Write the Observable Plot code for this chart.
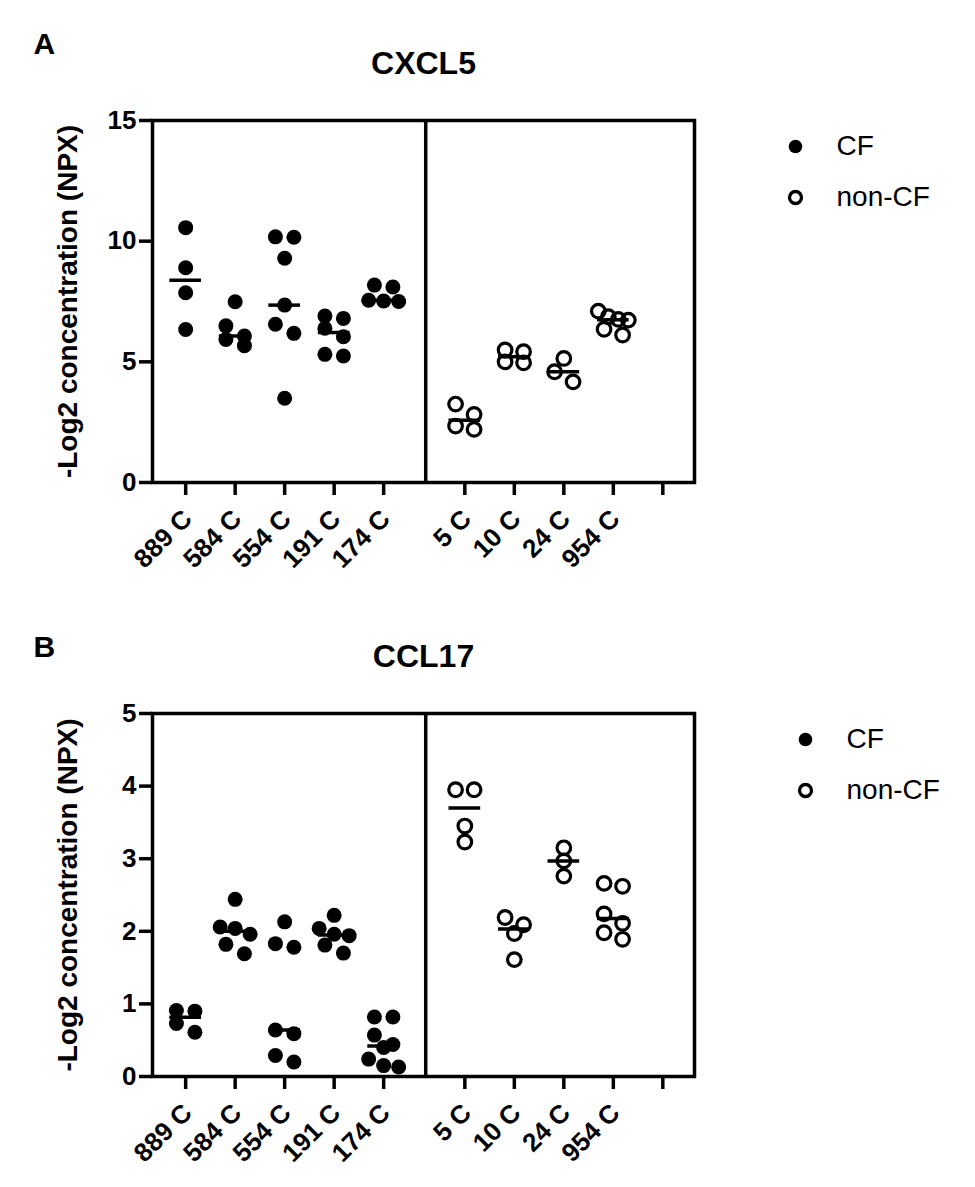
<!DOCTYPE html>
<html>
<head>
<meta charset="utf-8">
<script src="https://cdn.jsdelivr.net/npm/d3@7"></script>
<script src="https://cdn.jsdelivr.net/npm/@observablehq/plot@0.6"></script>
<style>
  html, body { margin: 0; padding: 0; background: #fff; }
  #root { width: 975px; }
  #root svg { display: block; }
</style>
</head>
<body>
<div id="root"></div>
<script>
// ---------- data ----------
const cfPatients = ["889 C", "584 C", "554 C", "191 C", "174 C"];
const nonCfPatients = ["5 C", "10 C", "24 C", "954 C"];
const groupNames = ["CF", "non-CF"];
const yAxisLabel = "-Log2 concentration (NPX)";

const cxcl5Ticks = [0, 5, 10, 15];
const cxcl5CF = [
  [10.56, 8.90, 7.86, 6.34],
  [7.49, 6.49, 6.07, 5.93, 5.67],
  [10.18, 10.16, 9.29, 7.35, 6.56, 6.18, 3.49],
  [6.90, 6.80, 6.39, 6.04, 5.31, 5.24],
  [8.18, 8.10, 7.55, 7.52, 7.50]
];
const cxcl5NonCF = [
  [3.25, 2.82, 2.34, 2.20],
  [5.49, 5.42, 5.00, 4.96],
  [5.14, 4.59, 4.17],
  [7.10, 6.87, 6.76, 6.73, 6.35, 6.11]
];

const ccl17Ticks = [0, 1, 2, 3, 4, 5];
const ccl17CF = [
  [0.91, 0.90, 0.73, 0.61],
  [2.44, 2.06, 2.04, 1.96, 1.82, 1.69],
  [2.13, 1.83, 1.78, 0.64, 0.59, 0.29, 0.20],
  [2.22, 2.04, 1.96, 1.94, 1.81, 1.70],
  [0.82, 0.82, 0.57, 0.44, 0.40, 0.24, 0.15, 0.13]
];
const ccl17NonCF = [
  [3.95, 3.95, 3.45, 3.23],
  [2.19, 2.09, 1.97, 1.61],
  [3.15, 2.97, 2.76],
  [2.66, 2.62, 2.24, 2.11, 1.98, 1.89]
];

// ---------- layout ----------
const W = 975;
const FONT = "'Liberation Sans', Arial, Helvetica, sans-serif";
const X_DOMAIN = [-0.67, 10.28];
const GROUP_GAP = 5.64;      // x position of first non-CF column
const DIVIDER = 4.85;        // x position of separator line
const ML = 152, MR = 281;

function cfPos(i) { return i; }
function nonCfPos(j) { return GROUP_GAP + j; }

// Prism-like scatter: points at similar heights are spread side by side
function swarm(values, basePos, pxPerY, pxPerX) {
  const sorted = values.slice().sort((a, b) => b - a);
  const rows = [];
  for (const v of sorted) {
    const row = rows[rows.length - 1];
    if (row && (row[0] - v) * pxPerY <= 11) row.push(v);
    else rows.push([v]);
  }
  const out = [];
  for (const row of rows) {
    const n = row.length;
    const s = n > 1 ? Math.min(18.5, 30 / (n - 1)) : 0;
    row.forEach((v, i) => out.push({x: basePos + (i - (n - 1) / 2) * s / pxPerX, y: v}));
  }
  return out;
}

function panel(opts) {
  const {letter, title, cf, noncf, ticks, height, mt, mb, legDx, letterDy} = opts;
  const yMax = ticks[ticks.length - 1];
  const pxPerY = (height - mt - mb) / yMax;
  const pxPerX = (W - ML - MR) / (X_DOMAIN[1] - X_DOMAIN[0]);

  const cfPts = cf.flatMap((vals, i) => swarm(vals, cfPos(i), pxPerY, pxPerX));
  const ncPts = noncf.flatMap((vals, j) => swarm(vals, nonCfPos(j), pxPerY, pxPerX));
  const meds = [
    ...cf.map((vals, i) => ({x: cfPos(i), y: d3.median(vals)})),
    ...noncf.map((vals, j) => ({x: nonCfPos(j), y: d3.median(vals)}))
  ];
  const labels = [
    ...cfPatients.map((p, i) => ({x: cfPos(i), text: p})),
    ...nonCfPatients.map((p, j) => ({x: nonCfPos(j), text: p}))
  ];
  const tickPositions = [
    ...cfPatients.map((p, i) => cfPos(i)),
    ...nonCfPatients.map((p, j) => nonCfPos(j)),
    nonCfPos(nonCfPatients.length)
  ];
  const halfW = 0.32;

  return Plot.plot({
    width: W,
    height,
    marginLeft: ML,
    marginRight: MR,
    marginTop: mt,
    marginBottom: mb,
    style: {fontFamily: FONT, background: "white", color: "black", overflow: "visible"},
    x: {domain: X_DOMAIN},
    y: {domain: [0, yMax]},
    marks: [
      Plot.frame({stroke: "black", strokeWidth: 3.5}),
      Plot.ruleX([DIVIDER], {stroke: "black", strokeWidth: 3.5}),
      Plot.axisY({ticks, tickSize: 13, tickPadding: 3, fontSize: 26, fontWeight: "bold",
                  strokeWidth: 3.5, label: null, tickFormat: d => String(d)}),
      Plot.axisX({ticks: tickPositions, tickSize: 13, strokeWidth: 3.5, label: null,
                  tickFormat: () => ""}),
      Plot.text(labels, {x: "x", text: "text", frameAnchor: "bottom", rotate: -45,
                         textAnchor: "end", lineAnchor: "middle", dx: 2, dy: 32,
                         fontSize: 26, fontWeight: "bold", fill: "black"}),
      Plot.text([yAxisLabel], {frameAnchor: "left", rotate: -90, dx: -84, lineAnchor: "middle",
                               textAnchor: "middle", fontSize: 28, fontWeight: "bold", fill: "black"}),
      Plot.text([title], {frameAnchor: "top", lineAnchor: "top", dy: -69, fontSize: 32,
                          fontWeight: "bold", fill: "black"}),
      Plot.text([letter], {frameAnchor: "top-left", textAnchor: "start", lineAnchor: "top",
                           dx: -119, dy: letterDy, fontSize: 30, fontWeight: "bold", fill: "black"}),
      Plot.dot(cfPts, {x: "x", y: "y", r: 7.5, fill: "black", stroke: "none"}),
      Plot.dot(ncPts, {x: "x", y: "y", r: 6.8, fill: "none", stroke: "black", strokeWidth: 3.2}),
      Plot.ruleY(meds, {y: "y", x1: d => d.x - halfW, x2: d => d.x + halfW,
                        stroke: "black", strokeWidth: 3.5}),
      // legend
      Plot.dot([groupNames[0]], {frameAnchor: "top-right", dx: legDx, dy: 26, r: 6.8,
                                 fill: "black", stroke: "none"}),
      Plot.dot([groupNames[1]], {frameAnchor: "top-right", dx: legDx, dy: 77, r: 6,
                                 fill: "none", stroke: "black", strokeWidth: 3.3}),
      Plot.text([groupNames[0]], {frameAnchor: "top-right", dx: legDx + 41, dy: 26,
                                  textAnchor: "start", lineAnchor: "middle", fontSize: 28,
                                  fontWeight: "normal", fill: "black", text: d => d}),
      Plot.text([groupNames[1]], {frameAnchor: "top-right", dx: legDx + 41, dy: 77,
                                  textAnchor: "start", lineAnchor: "middle", fontSize: 28,
                                  fontWeight: "normal", fill: "black", text: d => d})
    ]
  });
}

const root = document.getElementById("root");
root.appendChild(panel({letter: "A", title: "CXCL5", cf: cxcl5CF, noncf: cxcl5NonCF,
  ticks: cxcl5Ticks, height: 590, mt: 120, mb: 108, legDx: 101, letterDy: -88}));
root.appendChild(panel({letter: "B", title: "CCL17", cf: ccl17CF, noncf: ccl17NonCF,
  ticks: ccl17Ticks, height: 597, mt: 123, mb: 111, legDx: 111, letterDy: -78}));
</script>
</body>
</html>
